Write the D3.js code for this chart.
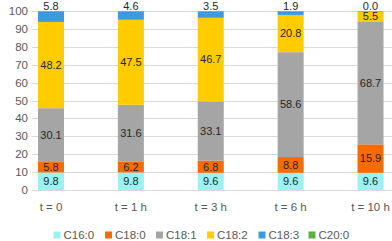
<!DOCTYPE html>
<html>
<head>
<meta charset="utf-8">
<script src="https://cdn.jsdelivr.net/npm/d3@7"></script>
<style>
  body { margin: 0; background: #fff; }
  text { font-family: "Liberation Sans", Arial, sans-serif; }
</style>
</head>
<body>
<div id="chart"></div>
<script>
// categories and series values
const times = ["t = 0", "t = 1 h", "t = 3 h", "t = 6 h", "t = 10 h"];
const seriesNames = ["C16:0", "C18:0", "C18:1", "C18:2", "C18:3", "C20:0"];
const c160 = [9.8, 9.8, 9.6, 9.6, 9.6];
const c180 = [5.8, 6.2, 6.8, 8.8, 15.9];
const c181 = [30.1, 31.6, 33.1, 58.6, 68.7];
const c182 = [48.2, 47.5, 46.7, 20.8, 5.5];
const c183 = [5.8, 4.6, 3.5, 1.9, 0.0];
const c200 = [0.3, 0.3, 0.3, 0.3, 0.3];
const yTicks = [0, 10, 20, 30, 40, 50, 60, 70, 80, 90, 100];

const colors = ["#99F3F3", "#F76B00", "#A5A5A5", "#FFCC00", "#3C9BE0", "#5AB142"];
const allSeries = [c160, c180, c181, c182, c183, c200];

const rows = times.map((t, i) => {
    const r = { time: t };
    seriesNames.forEach((s, k) => r[s] = allSeries[k][i]);
    return r;
});

const width = 392, height = 241;
const svg = d3.select("#chart").append("svg")
    .attr("width", width)
    .attr("height", height);

const x = d3.scalePoint().domain(times).range([51, 370.5]);
const y = d3.scaleLinear().domain([0, 100]).range([190, 11]);
const barW = 26;

// gridlines
svg.append("g")
    .selectAll("line")
    .data(yTicks)
    .enter().append("line")
    .attr("x1", 32)
    .attr("x2", width)
    .attr("y1", d => Math.round(y(d)) + 0.5)
    .attr("y2", d => Math.round(y(d)) + 0.5)
    .attr("stroke", "#D9D9D9")
    .attr("stroke-width", 1);

// y axis labels
svg.append("g")
    .selectAll("text")
    .data(yTicks)
    .enter().append("text")
    .attr("x", 28)
    .attr("y", d => y(d))
    .attr("dy", "0.35em")
    .attr("text-anchor", "end")
    .attr("fill", "#595959")
    .style("font-size", "11.5px")
    .text(d => d);

const stack = d3.stack().keys(seriesNames);
const layers = stack(rows);

// bars
svg.append("g")
    .selectAll("g")
    .data(layers)
    .enter().append("g")
    .attr("fill", (d, i) => colors[i])
    .selectAll("rect")
    .data(d => d)
    .enter().append("rect")
    .attr("x", d => x(d.data.time) - barW / 2)
    .attr("width", barW)
    .attr("y", d => y(d[1]))
    .attr("height", d => y(d[0]) - y(d[1]));

// value labels (C16:0 .. C18:2 centred, C18:3 above the bar)
const labelGroup = svg.append("g");
layers.slice(0, 5).forEach((layer, k) => {
    labelGroup.selectAll(null)
        .data(layer)
        .enter().append("text")
        .attr("x", d => x(d.data.time))
        .attr("y", d => k === 4 ? y(100) - 5 : y((d[0] + d[1]) / 2))
        .attr("dy", "0.35em")
        .attr("text-anchor", "middle")
        .attr("fill", "#262626")
        .style("font-size", "11px")
        .text(d => d.data[seriesNames[k]].toFixed(1));
});

// x axis labels
svg.append("g")
    .selectAll("text")
    .data(times)
    .enter().append("text")
    .attr("x", d => x(d))
    .attr("y", 207)
    .attr("dy", "0.35em")
    .attr("text-anchor", "middle")
    .attr("fill", "#595959")
    .style("font-size", "11.5px")
    .text(d => d);

// legend
const legendX = [53.5, 105, 156, 207, 258.5, 308.5];
const legend = svg.append("g")
    .selectAll("g")
    .data(seriesNames)
    .enter().append("g")
    .attr("transform", (d, i) => `translate(${legendX[i]},235)`);

legend.append("rect")
    .attr("x", 0)
    .attr("y", -3.5)
    .attr("width", 7)
    .attr("height", 7)
    .attr("fill", (d, i) => colors[i]);

legend.append("text")
    .attr("x", 10)
    .attr("y", 0)
    .attr("dy", "0.35em")
    .attr("fill", "#595959")
    .style("font-size", "11.5px")
    .text(d => d);
</script>
</body>
</html>
